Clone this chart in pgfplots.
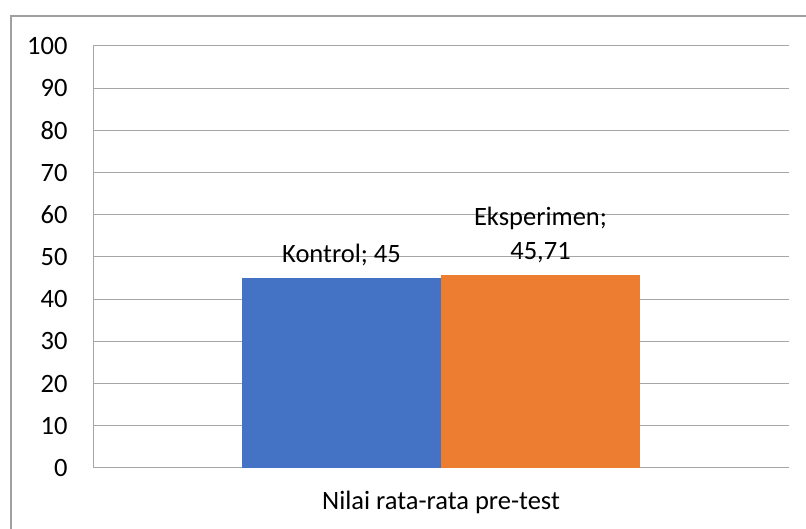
\documentclass[border=0pt]{standalone}
\usepackage{pgfplots}
\pgfplotsset{compat=1.18}
\usepackage{fontspec}
\setmainfont{Carlito}
\definecolor{kblue}{HTML}{4472C4}
\definecolor{korange}{HTML}{ED7D31}
\definecolor{gridgray}{HTML}{A6A6A6}
\definecolor{bordergray}{HTML}{A0A0A0}
\begin{document}
\begin{tikzpicture}[x=1bp,y=1bp]
\useasboundingbox (0,0) rectangle (806,529);
\draw[bordergray, line width=1.2bp] (11,-2) -- (11,513) -- (808,513);
\begin{axis}[
  at={(93bp,61bp)}, anchor=south west,
  scale only axis, width=696bp, height=422bp,
  xmin=-1, xmax=1, ymin=0, ymax=100,
  enlargelimits=false,
  ytick={0,10,...,100},
  xtick={0}, xticklabels={Nilai rata-rata pre-test},
  ymajorgrids, grid style={gridgray, line width=1bp},
  major tick length=0pt,
  axis lines=left,
  axis line style={-, gridgray, line width=1bp},
  ybar, bar width=0.5718,
  /pgf/number format/assume math mode=true,
  ticklabel style={font=\fontsize{26.5bp}{31bp}\selectfont},
  yticklabel style={anchor=east, xshift=-22bp},
  xticklabel style={anchor=center, yshift=-34bp},
  nodes near coords style={font=\fontsize{26.5bp}{34bp}\selectfont, anchor=south, inner sep=0pt, yshift=12bp, align=center},
]
\addplot[fill=kblue, draw=none, bar shift=-0.2859, nodes near coords={Kontrol; 45}] coordinates {(0,45)};
\addplot[fill=korange, draw=none, bar shift=0.2859, nodes near coords={Eksperimen;\\45,71}] coordinates {(0,45.71)};
\end{axis}
\end{tikzpicture}
\end{document}
